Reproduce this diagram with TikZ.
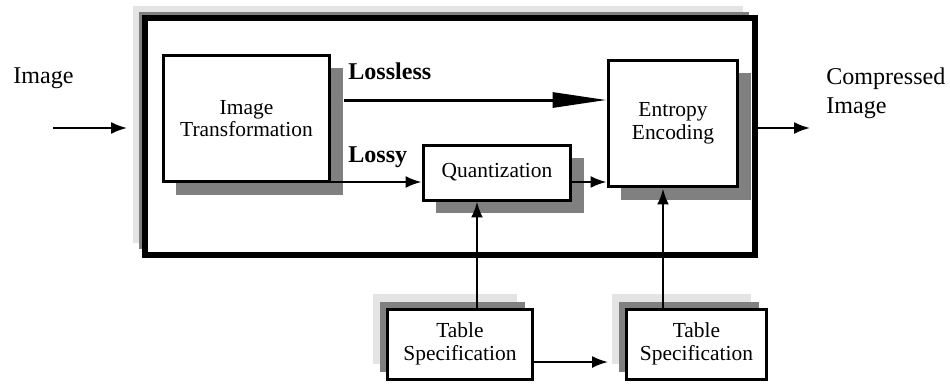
\documentclass[tikz,border=0pt]{standalone}
\usepackage{fontspec}
\setmainfont{Liberation Serif}
\usetikzlibrary{arrows.meta,positioning,shadows}
\definecolor{ShadeDark}{RGB}{128,128,128}
\definecolor{ShadeLight}{RGB}{228,228,228}

\tikzset{
    block/.style={draw, line width=0.06cm, fill=white, align=center, inner sep=0pt,
        font=\fontsize{12.2}{12.8}\selectfont},
    shadowed/.style={drop shadow={shadow xshift=0.26cm, shadow yshift=-0.26cm, fill=ShadeDark, opacity=1}},
    stacked/.style={
        drop shadow={shadow xshift=-#1*2, shadow yshift=#1*2, fill=ShadeLight, opacity=1},
        drop shadow={shadow xshift=-#1, shadow yshift=#1, fill=ShadeDark, opacity=1}},
    flow/.style={line width=0.04cm, -{Latex[length=0.32cm,width=0.24cm]}},
    textlbl/.style={inner sep=0pt, font=\fontsize{13.7}{16.5}\selectfont}
}

\begin{document}
\begin{tikzpicture}[x=0.02cm,y=-0.02cm]
\useasboundingbox (0,0) rectangle (950,383);
\node[draw, line width=0.12cm, fill=white, minimum width=12.2cm, minimum height=4.74cm, stacked=0.12cm] (frame) at (450,136.5) {};
\node[block, shadowed, minimum width=3.34cm, minimum height=2.54cm] (trans) at (246.5,118.5) {Image\\Transformation};
\node[block, shadowed, minimum width=2.6cm, minimum height=2.54cm] (entropy) at (673,123.5) {Entropy\\Encoding};
\node[block, shadowed, minimum width=2.96cm, minimum height=1.1cm] (quant) at (497,172.5) {Quantization};
\node[block, stacked=0.15cm, minimum width=2.9cm, minimum height=1.4cm] (spec1) at (460,344) {Table\\Specification};
\node[block, stacked=0.15cm, minimum width=2.8cm, minimum height=1.4cm] (spec2) at (696.5,344) {Table\\Specification};
\node[textlbl, font=\fontsize{13.7}{16.5}\selectfont\bfseries, anchor=west] (lossless) at (348,71) {Lossless};
\node[textlbl, font=\fontsize{13.7}{16.5}\selectfont\bfseries, anchor=west] (lossy) at (348,157) {Lossy};
\node[textlbl, anchor=west] (inlbl) at (13,78) {Image};
\node[textlbl, anchor=west, align=left] (outlbl) at (826,93) {Compressed\\Image};
\coordinate (loss) at ([xshift=0.25cm,yshift=0.37cm]trans.east);
\coordinate (in) at (53,128);
\coordinate (inend) at (127,128);
\coordinate (outend) at (810,128);
\draw[line width=0.06cm, -{Triangle[length=1.08cm,width=0.3cm]}] (loss) -- (loss -| entropy.west);
\draw[flow] ([yshift=0.03cm]trans.south east) -- ([yshift=0.03cm]trans.south east -| quant.west);
\draw[flow] ([yshift=0.03cm]quant.east |- trans.south east) -- ([yshift=0.03cm]trans.south east -| entropy.west);
\draw[flow, line width=0.05cm] ([xshift=0.34cm]spec1.north) -- ([xshift=0.34cm]spec1.north |- quant.south);
\draw[flow, line width=0.05cm] ([xshift=-0.67cm]spec2.north) -- ([xshift=-0.67cm]spec2.north |- entropy.south);
\draw[flow] ([yshift=-0.36cm]spec1.east) -- ([xshift=-0.34cm,yshift=-0.36cm]spec2.west);
\draw[flow] (in) -- (inend);
\draw[flow] (frame.east |- in) -- (outend);
\end{tikzpicture}
\end{document}
